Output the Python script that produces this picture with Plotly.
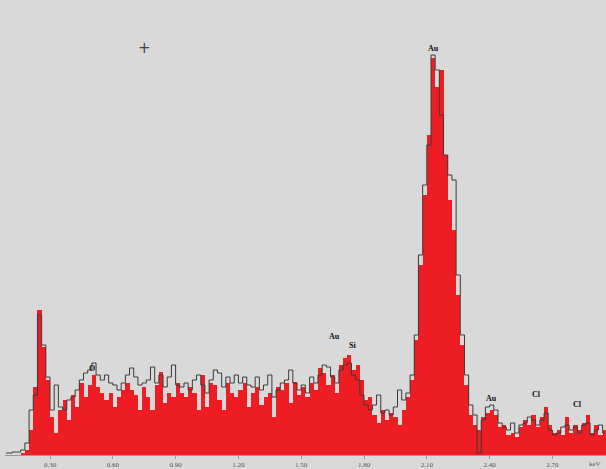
import plotly.graph_objects as go

# Channel energies (keV): 144 channels of 0.02 keV starting at 0.08 keV
ch_start = 0.08
ch_width = 0.02

# Red (filled) spectrum counts per channel
red_counts = [
    0, 0, 0, 0, 2, 5, 25, 68, 145, 108,
    75, 38, 22, 45, 55, 35, 60, 48, 72, 58,
    70, 80, 68, 62, 55, 62, 48, 58, 65, 72,
    65, 60, 45, 68, 58, 45, 70, 83, 52, 62,
    58, 72, 62, 58, 68, 62, 45, 80, 48, 72,
    70, 55, 45, 72, 62, 58, 65, 72, 48, 62,
    68, 50, 58, 62, 38, 68, 65, 72, 52, 73,
    60, 68, 58, 72, 65, 87, 82, 70, 80, 62,
    90, 97, 100, 85, 90, 75, 55, 58, 40, 32,
    45, 35, 42, 38, 30, 45, 58, 75, 115, 190,
    260, 320, 397, 368, 385, 300, 255, 225, 160, 110,
    70, 40, 30, 25, 38, 42, 45, 40, 28, 30,
    20, 22, 18, 28, 35, 30, 40, 28, 38, 48,
    30, 22, 25, 20, 38, 22, 30, 25, 32, 40,
    22, 30, 20, 25,
]

# Black (outline) spectrum counts per channel
black_counts = [
    2, 2, 3, 3, 5, 12, 45, 60, 140, 110,
    78, 45, 70, 48, 45, 55, 58, 65, 75, 82,
    85, 92, 80, 75, 80, 72, 70, 65, 72, 80,
    87, 78, 70, 72, 75, 88, 72, 80, 68, 78,
    90, 70, 68, 72, 65, 75, 80, 70, 62, 75,
    85, 82, 68, 78, 72, 80, 72, 78, 70, 68,
    78, 65, 70, 80, 58, 65, 72, 75, 85, 72,
    65, 70, 62, 78, 72, 80, 90, 88, 78, 72,
    85, 90, 92, 80, 75, 60, 50, 45, 50, 60,
    42, 45, 40, 48, 65, 55, 62, 80, 120, 200,
    270, 310, 400, 385, 340, 300, 280, 275, 180, 120,
    80, 50, 40, 2, 35, 48, 50, 45, 32, 28,
    25, 32, 22, 30, 32, 38, 35, 30, 35, 42,
    25, 20, 22, 28, 30, 25, 28, 22, 30, 32,
    20, 25, 30, 22,
]

energies = [round(ch_start + ch_width * (i + 0.5), 4) for i in range(len(red_counts))]

# Peak labels
peak_names = ["Au", "Au", "Si", "O", "Au", "Cl", "Cl"]
peak_energy = [2.134, 1.661, 1.743, 0.50, 2.411, 2.622, 2.822]
peak_height = [400, 112, 103, 80, 50, 54, 44]

# X-axis ticks
tick_vals = [0.3, 0.6, 0.9, 1.2, 1.5, 1.8, 2.1, 2.4, 2.7]
tick_text = ["0.30", "0.60", "0.90", "1.20", "1.50", "1.80", "2.10", "2.40", "2.70"]

fig = go.Figure()
fig.add_trace(go.Bar(
    x=energies, y=red_counts, width=ch_width,
    marker=dict(color="#ee1d24", line=dict(width=0)),
    showlegend=False, hoverinfo="skip",
))
fig.add_trace(go.Scatter(
    x=energies, y=black_counts, mode="lines",
    line=dict(color="#3a3a3a", width=1, shape="hvh"),
    showlegend=False, hoverinfo="skip",
))

annotations = []
for name, e, h in zip(peak_names, peak_energy, peak_height):
    annotations.append(dict(
        x=e, y=h, xref="x", yref="y", text="<b>" + name + "</b>",
        showarrow=False, yanchor="bottom",
        font=dict(family="Liberation Serif", size=8, color="#111111"),
    ))
# cursor cross
annotations.append(dict(
    x=0.218, y=0.919, xref="paper", yref="paper", text="+",
    showarrow=False, font=dict(family="DejaVu Sans", size=15, color="#444444"),
))
# cut-off unit label at the right edge
annotations.append(dict(
    x=0.995, y=0, xref="paper", yref="paper", text="keV",
    showarrow=False, yanchor="top", yshift=-3,
    font=dict(family="Liberation Serif", size=7, color="#555555"),
))

fig.update_layout(
    width=606, height=469,
    margin=dict(l=5, r=0, t=0, b=14),
    paper_bgcolor="#d9d9d9", plot_bgcolor="#d9d9d9",
    bargap=0,
    xaxis=dict(
        range=[0.085, 2.956], tickvals=tick_vals, ticktext=tick_text,
        showgrid=False, zeroline=False, showline=True, linecolor="#9a9a9a",
        linewidth=1, ticks="outside", ticklen=3, tickcolor="#9a9a9a",
        tickfont=dict(family="Liberation Serif", size=7, color="#555555"),
    ),
    yaxis=dict(range=[0, 455], visible=False, showgrid=False, zeroline=False),
    annotations=annotations,
)

fig.write_html(
    "out.html",
    config={"displayModeBar": False, "staticPlot": True},
    post_script="document.body.style.margin='0';document.body.style.background='#d9d9d9';",
)
